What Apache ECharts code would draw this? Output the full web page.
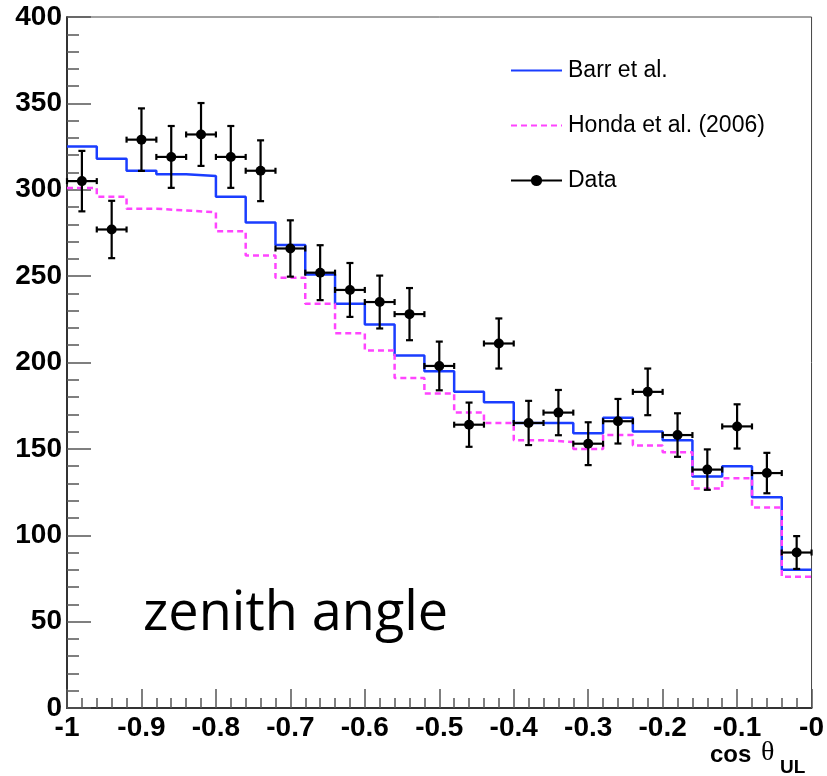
<!DOCTYPE html>
<html>
<head>
<meta charset="utf-8">
<script src="https://cdn.jsdelivr.net/npm/echarts@6/dist/echarts.min.js"></script>
<style>
html,body{margin:0;padding:0;background:#fff;}
#chart{width:827px;height:776px;}
</style>
</head>
<body>
<div id="chart"></div>
<script>
// Bin edges of cos(theta_UL) histogram
var binEdges = [-1.00,-0.96,-0.92,-0.88,-0.84,-0.80,-0.76,-0.72,-0.68,-0.64,-0.60,-0.56,-0.52,-0.48,-0.44,-0.40,-0.36,-0.32,-0.28,-0.24,-0.20,-0.16,-0.12,-0.08,-0.04,0.00];
// Bin centres for data points
var binCenters = [-0.98,-0.94,-0.90,-0.86,-0.82,-0.78,-0.74,-0.70,-0.66,-0.62,-0.58,-0.54,-0.50,-0.46,-0.42,-0.38,-0.34,-0.30,-0.26,-0.22,-0.18,-0.14,-0.10,-0.06,-0.02];
// Barr et al. prediction
var barr = [325,318,311,309,308,296,281,268,251,234,222,204,195,183,177,165,165,159,168,160,155,134,140,122,80];
// Honda et al. (2006) prediction
var honda = [301,296,289,288,287,276,262,249,234,217,207,191,182,171,165,155,154,150,158,152,148,127,133,116,76];
// Data
var dataVals = [305,277,329,319,332,319,311,266,252,242,235,228,198,164,211,165,171,153,166,183,158,138,163,136,90];
var dataErr  = [17.5,16.6,18.1,17.9,18.2,17.9,17.6,16.3,15.9,15.6,15.3,15.1,14.1,12.8,14.5,12.8,13.1,12.4,12.9,13.5,12.6,11.7,12.8,11.7,9.5];
var halfBin = 0.02;

function stepData(vals){
  var out = [];
  for (var i = 0; i < binEdges.length; i++) {
    out.push([binEdges[i], vals[Math.min(i, vals.length - 1)]]);
  }
  return out;
}

var pts = binCenters.map(function(x, i){ return [x, dataVals[i]]; });
var errData = binCenters.map(function(x, i){ return [x, dataVals[i], dataErr[i]]; });

var chart = echarts.init(document.getElementById('chart'), null, {renderer:'canvas'});

var axisFont = 'Liberation Sans';

var option = {
  animation: false,
  backgroundColor: '#ffffff',
  grid: {left:67, right:15, top:17, bottom:68, show:true, borderColor:'#444', borderWidth:1, backgroundColor:'transparent'},
  legend: {
    orient: 'vertical',
    left: 505,
    top: 54,
    itemWidth: 51,
    itemHeight: 14,
    itemGap: 32,
    textStyle: {fontFamily: axisFont, fontSize: 23, color: '#000', padding:[0,0,0,1]},
    data: [
      {name: 'Barr et al.', itemStyle: {opacity: 0}},
      {name: 'Honda et al. (2006)', itemStyle: {opacity: 0}},
      {name: 'Data', lineStyle: {width: 2, color: '#000', opacity: 1, type:'solid'}}
    ]
  },
  xAxis: {
    type: 'value', min: -1, max: 0, interval: 0.1,
    axisLine: {onZero:false, lineStyle: {color:'#333', width:2}},
    axisTick: {inside:true, length:19, lineStyle:{color:'#555', width:1.5}},
    minorTick: {show:true, splitNumber:5, length:10, lineStyle:{color:'#555', width:1.5}},
    splitLine: {show:false},
    axisLabel: {
      fontFamily: axisFont, fontWeight:'bold', fontSize:28, color:'#000', margin:6,
      showMinLabel:true, showMaxLabel:true,
      formatter: function(v){ return v === 0 ? '-0' : String(Math.round(v*10)/10); }
    }
  },
  yAxis: {
    type: 'value', min: 0, max: 400, interval: 50,
    axisLine: {onZero:false, lineStyle: {color:'#333', width:2}},
    axisTick: {inside:true, length:24, lineStyle:{color:'#555', width:1.5}},
    minorTick: {show:true, splitNumber:5, length:12, lineStyle:{color:'#555', width:1.5}},
    splitLine: {show:false},
    axisLabel: {fontFamily: axisFont, fontWeight:'bold', fontSize:28, color:'#000', margin:5, showMinLabel:true, showMaxLabel:true}
  },
  graphic: [
    {type:'text', x:143, y:615, z:10, style:{text:'zenith angle', fontFamily:'Open Sans', fontSize:54, fill:'#000', verticalAlign:'middle', align:'left'}},
    {type:'text', x:710, y:755, z:10, style:{text:'cos', fontFamily:axisFont, fontWeight:'bold', fontSize:24, fill:'#000', verticalAlign:'middle', align:'left'}},
    {type:'text', x:761, y:753, z:10, style:{text:'θ', fontFamily:'Liberation Serif', fontSize:28, fill:'#000', verticalAlign:'middle', align:'left'}},
    {type:'text', x:780, y:768, z:10, style:{text:'UL', fontFamily:axisFont, fontWeight:'bold', fontSize:19, fill:'#000', verticalAlign:'middle', align:'left'}}
  ],
  series: [
    {
      name: 'Barr et al.', type: 'line', step: 'end', symbol: 'none', z: 2,
      lineStyle: {color:'#1a3dff', width:2.5},
      itemStyle: {color:'#1a3dff'},
      data: stepData(barr)
    },
    {
      name: 'Honda et al. (2006)', type: 'line', step: 'end', symbol: 'none', z: 2,
      lineStyle: {color:'#ff44ff', width:2.5, type:[6,4]},
      itemStyle: {color:'#ff44ff'},
      data: stepData(honda)
    },
    {
      name: 'DataErr', type: 'custom', z: 3,
      encode: {x:0, y:1},
      renderItem: function(params, api){
        var x = api.value(0), y = api.value(1), e = api.value(2);
        var c = api.coord([x, y]);
        var l = api.coord([x - halfBin, y]);
        var r = api.coord([x + halfBin, y]);
        var t = api.coord([x, y + e]);
        var b = api.coord([x, y - e]);
        var st = {stroke:'#000', lineWidth:2.2};
        var cap = 3.5, tk = 3;
        return {type:'group', children:[
          {type:'line', shape:{x1:l[0], y1:c[1], x2:r[0], y2:c[1]}, style:st},
          {type:'line', shape:{x1:l[0], y1:c[1]-tk, x2:l[0], y2:c[1]+tk}, style:st},
          {type:'line', shape:{x1:r[0], y1:c[1]-tk, x2:r[0], y2:c[1]+tk}, style:st},
          {type:'line', shape:{x1:c[0], y1:t[1], x2:c[0], y2:b[1]}, style:st},
          {type:'line', shape:{x1:c[0]-cap, y1:t[1], x2:c[0]+cap, y2:t[1]}, style:st},
          {type:'line', shape:{x1:c[0]-cap, y1:b[1], x2:c[0]+cap, y2:b[1]}, style:st}
        ]};
      },
      data: errData
    },
    {
      name: 'Data', type: 'line', z: 4,
      symbol: 'circle', symbolSize: 10,
      itemStyle: {color:'#000'},
      lineStyle: {width:0, opacity:0},
      data: pts
    }
  ]
};
chart.setOption(option);
</script>
</body>
</html>
